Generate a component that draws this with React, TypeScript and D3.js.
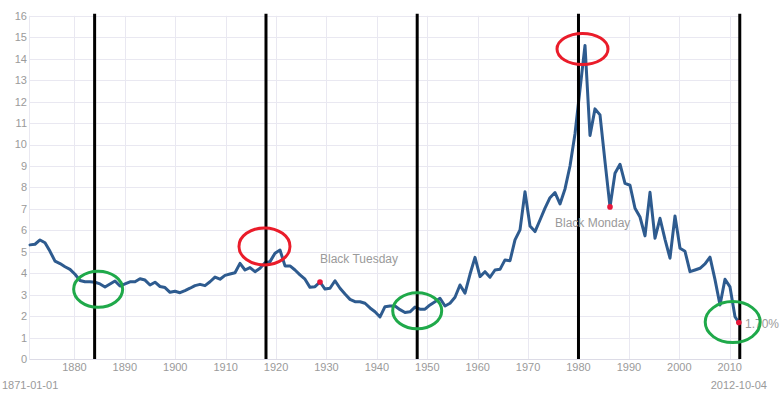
import { useEffect } from 'react';
import * as d3 from 'd3';

// long-term interest rate, January of each year 1871..2012, then the last reading (Oct 2012)
const startYear = 1871;
const rates = [
  5.32, 5.35, 5.55, 5.42, 5.02, 4.56, 4.45, 4.30, 4.18, 3.95,
  3.66, 3.60, 3.60, 3.58, 3.50, 3.36, 3.50, 3.64, 3.40, 3.50,
  3.60, 3.60, 3.74, 3.68, 3.45, 3.58, 3.38, 3.33, 3.11, 3.16,
  3.09, 3.19, 3.30, 3.42, 3.48, 3.42, 3.60, 3.82, 3.72, 3.90,
  3.96, 4.02, 4.46, 4.15, 4.26, 4.07, 4.23, 4.49, 4.54, 4.93,
  5.08, 4.34, 4.34, 4.15, 3.92, 3.72, 3.34, 3.37, 3.59, 3.26,
  3.30, 3.65, 3.30, 3.03, 2.78, 2.67, 2.67, 2.60, 2.38, 2.20,
  1.96, 2.44, 2.47, 2.47, 2.30, 2.17, 2.20, 2.42, 2.32, 2.32,
  2.52, 2.67, 2.83, 2.47, 2.60, 2.88, 3.45, 3.07, 3.95, 4.74,
  3.84, 4.07, 3.81, 4.15, 4.18, 4.62, 4.58, 5.55, 6.02, 7.80,
  6.20, 5.94, 6.48, 7.03, 7.52, 7.76, 7.23, 7.93, 9.00, 10.50,
  12.57, 14.62, 10.42, 11.66, 11.38, 9.20, 7.09, 8.66, 9.08, 8.19,
  8.10, 7.03, 6.62, 5.74, 7.77, 5.63, 6.56, 5.58, 4.70, 6.67,
  5.16, 5.02, 4.07, 4.15, 4.23, 4.43, 4.75, 3.70, 2.52, 3.72,
  3.36, 1.97,
];
const lastDate = 2012.76; // 2012-10-04
const lastRate = 1.70;

const xTicks = [1880, 1890, 1900, 1910, 1920, 1930, 1940, 1950, 1960, 1970, 1980, 1990, 2000, 2010];
const yTicks = d3.range(0, 17);

// marked events
const eventYears = [1884, 1918, 1948, 1980, 2012];
const dotYears = [1929, 1987];
const labels = [
  { text: 'Black Tuesday', year: 1929, value: 4.46 },
  { text: 'Black Monday', year: 1976, value: 6.15 },
  { text: '1.70%', year: 2014, value: 1.45 },
];
// circles drawn by hand on the chart: [year, value, kind]
const rings: [number, number, string][] = [
  [1884.7, 3.25, 'low'],
  [1917.7, 5.25, 'high'],
  [1948.0, 2.25, 'low'],
  [1980.8, 14.45, 'high'],
  [2010.6, 1.72, 'low'],
];

const W = 780;
const H = 399;
const font = '"Liberation Sans", Arial, sans-serif';

export default function App() {
  useEffect(() => {
    document.body.style.margin = '0';
  }, []);

  const series = rates.map((v, i) => ({ year: startYear + i, value: v }));
  series.push({ year: lastDate, value: lastRate });

  // the axis of the original runs a touch wider than the series itself
  const xAxis = d3.scaleLinear().domain([startYear, lastDate]).range([29.1, 743.6]);
  const x = d3.scaleLinear().domain([startYear, lastDate]).range([30, 738.8]);
  const y = d3.scaleLinear().domain([0, 16]).range([359, 15.8]);

  const line = d3.line<{ year: number; value: number }>()
    .x(d => x(d.year))
    .y(d => y(d.value))
    .curve(d3.curveLinear);

  const dots = [
    ...dotYears.map(yr => ({ year: yr, value: rates[yr - startYear] })),
    { year: lastDate, value: lastRate },
  ];

  return (
    <svg width={W} height={H} style={{ display: 'block' }} fontFamily={font}>
      {/* grid */}
      <g stroke="#e9e8f1" strokeWidth={1} fill="none">
        {yTicks.map(t => (
          <line key={'h' + t} x1={29.5} x2={740} y1={Math.round(y(t)) + 0.5} y2={Math.round(y(t)) + 0.5} />
        ))}
        {xTicks.map(t => (
          <line key={'v' + t} x1={Math.round(xAxis(t)) + 0.5} x2={Math.round(xAxis(t)) + 0.5} y1={y(16)} y2={y(0)} />
        ))}
        <line x1={29.5} x2={29.5} y1={y(16)} y2={y(0)} />
      </g>
      <line x1={29.5} x2={740} y1={359.5} y2={359.5} stroke="#dcdbe6" strokeWidth={1} />

      {/* y labels */}
      <g fill="#9a9a9a" fontSize={11} textAnchor="end">
        {yTicks.map(t => (
          <text key={t} x={27} y={y(t)} dy="0.36em">{t}</text>
        ))}
      </g>
      {/* x labels */}
      <g fill="#9a9a9a" fontSize={11} textAnchor="middle">
        {xTicks.map(t => (
          <text key={t} x={xAxis(t)} y={370.5}>{t}</text>
        ))}
      </g>
      <text x={2} y={389} fontSize={11} fill="#9a9a9a">1871-01-01</text>
      <text x={767} y={389} fontSize={11} fill="#9a9a9a" textAnchor="end">2012-10-04</text>

      {/* series */}
      <path d={line(series) ?? ''} fill="none" stroke="#2e5b8f" strokeWidth={3} strokeLinejoin="round" strokeLinecap="round" />

      {/* event markers */}
      {eventYears.map(yr => (
        <line key={yr} x1={xAxis(yr)} x2={xAxis(yr)} y1={y(16) - 2} y2={y(0)} stroke="#000" strokeWidth={3} />
      ))}

      {dots.map(d => (
        <circle key={d.year} cx={x(d.year)} cy={y(d.value)} r={2.8} fill="#e8173a" />
      ))}

      {labels.map(l => (
        <text key={l.text} x={x(l.year)} y={y(l.value)} fontSize={12} fill="#9a9a9a">{l.text}</text>
      ))}

      {rings.map(([yr, v, kind]) => (
        <ellipse
          key={yr}
          cx={xAxis(yr)}
          cy={y(v)}
          rx={kind === 'high' ? 25.5 : yr > 2000 ? 27.5 : 24.5}
          ry={kind === 'high' ? (v > 10 ? 15.5 : 18.5) : yr > 2000 ? 20.5 : 18}
          fill="none"
          stroke={kind === 'high' ? '#ea1c2a' : '#1fa94a'}
          strokeWidth={3}
        />
      ))}
    </svg>
  );
}
